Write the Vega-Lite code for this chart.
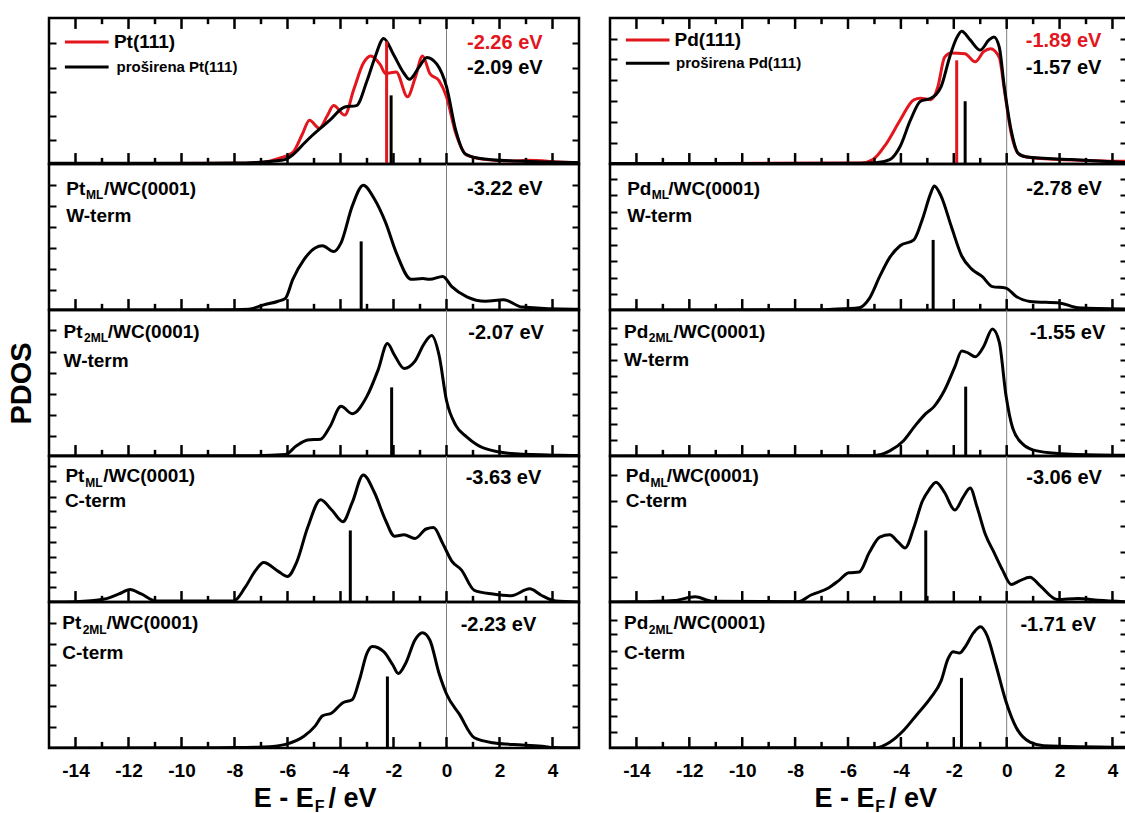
{
"$schema": "https://vega.github.io/schema/vega-lite/v6.json",
"padding": {"left": 5, "top": 15, "right": 0, "bottom": 0},
"background": "white",
"config": {
 "font": "Liberation Sans",
 "view": {"stroke": "#000000", "strokeWidth": 2.5},
 "axis": {"tickColor": "#000000", "tickWidth": 2, "domain": false, "grid": false, "labelFont": "Liberation Sans", "labelFontWeight": "bold", "labelFontSize": 19, "labelColor": "#000000", "titleFont": "Liberation Sans", "titleFontWeight": "bold", "titleColor": "#000000", "zindex": 1},
 "text": {"font": "Liberation Sans", "fontWeight": "bold", "color": "#000000"}
},
"datasets": {
 "tk": [{"x":-14,"m":"a"},{"x":-13,"m":"i"},{"x":-12,"m":"a"},{"x":-11,"m":"i"},{"x":-10,"m":"a"},{"x":-9,"m":"i"},{"x":-8,"m":"a"},{"x":-7,"m":"i"},{"x":-6,"m":"a"},{"x":-5,"m":"i"},{"x":-4,"m":"a"},{"x":-3,"m":"i"},{"x":-2,"m":"a"},{"x":-1,"m":"i"},{"x":0,"m":"a"},{"x":1,"m":"i"},{"x":2,"m":"a"},{"x":3,"m":"i"},{"x":4,"m":"a"}],
 "curves": [
  {"p":"Pt0","s":"ref","x":-15,"y":0.003},{"p":"Pt0","s":"ref","x":-8,"y":0.005},{"p":"Pt0","s":"ref","x":-6.9,"y":0.012},{"p":"Pt0","s":"ref","x":-6.3,"y":0.04},{"p":"Pt0","s":"ref","x":-5.8,"y":0.08},{"p":"Pt0","s":"ref","x":-5.45,"y":0.2},{"p":"Pt0","s":"ref","x":-5.17,"y":0.3},{"p":"Pt0","s":"ref","x":-4.8,"y":0.245},{"p":"Pt0","s":"ref","x":-4.5,"y":0.33},{"p":"Pt0","s":"ref","x":-4.26,"y":0.4},{"p":"Pt0","s":"ref","x":-3.84,"y":0.335},{"p":"Pt0","s":"ref","x":-3.5,"y":0.51},{"p":"Pt0","s":"ref","x":-3.14,"y":0.69},{"p":"Pt0","s":"ref","x":-2.86,"y":0.74},{"p":"Pt0","s":"ref","x":-2.5,"y":0.68},{"p":"Pt0","s":"ref","x":-2.3,"y":0.62},{"p":"Pt0","s":"ref","x":-1.9,"y":0.63},{"p":"Pt0","s":"ref","x":-1.47,"y":0.46},{"p":"Pt0","s":"ref","x":-1.19,"y":0.585},{"p":"Pt0","s":"ref","x":-0.9,"y":0.74},{"p":"Pt0","s":"ref","x":-0.63,"y":0.62},{"p":"Pt0","s":"ref","x":-0.28,"y":0.57},{"p":"Pt0","s":"ref","x":0,"y":0.46},{"p":"Pt0","s":"ref","x":0.35,"y":0.21},{"p":"Pt0","s":"ref","x":0.77,"y":0.06},{"p":"Pt0","s":"ref","x":1.5,"y":0.03},{"p":"Pt0","s":"ref","x":2.6,"y":0.02},{"p":"Pt0","s":"ref","x":3.0,"y":0.025},{"p":"Pt0","s":"ref","x":4.8,"y":0.01},{"p":"Pt0","s":"ref","x":5,"y":0.01},
  {"p":"Pt0","s":"ext","x":-15,"y":0.005},{"p":"Pt0","s":"ext","x":-10,"y":0.005},{"p":"Pt0","s":"ext","x":-8,"y":0.006},{"p":"Pt0","s":"ext","x":-7.2,"y":0.01},{"p":"Pt0","s":"ext","x":-6.5,"y":0.02},{"p":"Pt0","s":"ext","x":-6.1,"y":0.03},{"p":"Pt0","s":"ext","x":-5.8,"y":0.063},{"p":"Pt0","s":"ext","x":-5.38,"y":0.14},{"p":"Pt0","s":"ext","x":-5.1,"y":0.19},{"p":"Pt0","s":"ext","x":-4.4,"y":0.3},{"p":"Pt0","s":"ext","x":-3.84,"y":0.39},{"p":"Pt0","s":"ext","x":-3.4,"y":0.4},{"p":"Pt0","s":"ext","x":-3.0,"y":0.57},{"p":"Pt0","s":"ext","x":-2.7,"y":0.73},{"p":"Pt0","s":"ext","x":-2.37,"y":0.86},{"p":"Pt0","s":"ext","x":-2.0,"y":0.75},{"p":"Pt0","s":"ext","x":-1.6,"y":0.62},{"p":"Pt0","s":"ext","x":-1.4,"y":0.58},{"p":"Pt0","s":"ext","x":-1.05,"y":0.66},{"p":"Pt0","s":"ext","x":-0.74,"y":0.73},{"p":"Pt0","s":"ext","x":-0.35,"y":0.68},{"p":"Pt0","s":"ext","x":0,"y":0.53},{"p":"Pt0","s":"ext","x":0.35,"y":0.23},{"p":"Pt0","s":"ext","x":0.7,"y":0.07},{"p":"Pt0","s":"ext","x":1.2,"y":0.04},{"p":"Pt0","s":"ext","x":2.6,"y":0.02},{"p":"Pt0","s":"ext","x":4.8,"y":0.01},{"p":"Pt0","s":"ext","x":5,"y":0.01},
  {"p":"Pt1","s":"ext","x":-15,"y":0},{"p":"Pt1","s":"ext","x":-8,"y":0.002},{"p":"Pt1","s":"ext","x":-7.47,"y":0.005},{"p":"Pt1","s":"ext","x":-6.9,"y":0.035},{"p":"Pt1","s":"ext","x":-6.35,"y":0.06},{"p":"Pt1","s":"ext","x":-6.08,"y":0.08},{"p":"Pt1","s":"ext","x":-5.8,"y":0.21},{"p":"Pt1","s":"ext","x":-5.38,"y":0.345},{"p":"Pt1","s":"ext","x":-4.96,"y":0.425},{"p":"Pt1","s":"ext","x":-4.68,"y":0.44},{"p":"Pt1","s":"ext","x":-4.26,"y":0.4},{"p":"Pt1","s":"ext","x":-3.98,"y":0.46},{"p":"Pt1","s":"ext","x":-3.56,"y":0.71},{"p":"Pt1","s":"ext","x":-3.14,"y":0.855},{"p":"Pt1","s":"ext","x":-2.72,"y":0.76},{"p":"Pt1","s":"ext","x":-2.3,"y":0.6},{"p":"Pt1","s":"ext","x":-1.89,"y":0.39},{"p":"Pt1","s":"ext","x":-1.33,"y":0.21},{"p":"Pt1","s":"ext","x":-0.9,"y":0.215},{"p":"Pt1","s":"ext","x":-0.63,"y":0.21},{"p":"Pt1","s":"ext","x":-0.14,"y":0.23},{"p":"Pt1","s":"ext","x":0.2,"y":0.16},{"p":"Pt1","s":"ext","x":0.77,"y":0.09},{"p":"Pt1","s":"ext","x":1.47,"y":0.06},{"p":"Pt1","s":"ext","x":2.16,"y":0.07},{"p":"Pt1","s":"ext","x":2.86,"y":0.02},{"p":"Pt1","s":"ext","x":4.8,"y":0.005},{"p":"Pt1","s":"ext","x":5,"y":0.005},
  {"p":"Pt2","s":"ext","x":-15,"y":0},{"p":"Pt2","s":"ext","x":-7.2,"y":0.002},{"p":"Pt2","s":"ext","x":-6.08,"y":0.01},{"p":"Pt2","s":"ext","x":-5.66,"y":0.07},{"p":"Pt2","s":"ext","x":-5.24,"y":0.11},{"p":"Pt2","s":"ext","x":-4.75,"y":0.115},{"p":"Pt2","s":"ext","x":-4.4,"y":0.2},{"p":"Pt2","s":"ext","x":-3.98,"y":0.34},{"p":"Pt2","s":"ext","x":-3.56,"y":0.29},{"p":"Pt2","s":"ext","x":-3.0,"y":0.41},{"p":"Pt2","s":"ext","x":-2.58,"y":0.59},{"p":"Pt2","s":"ext","x":-2.23,"y":0.77},{"p":"Pt2","s":"ext","x":-1.96,"y":0.69},{"p":"Pt2","s":"ext","x":-1.6,"y":0.6},{"p":"Pt2","s":"ext","x":-1.19,"y":0.65},{"p":"Pt2","s":"ext","x":-0.84,"y":0.77},{"p":"Pt2","s":"ext","x":-0.56,"y":0.825},{"p":"Pt2","s":"ext","x":-0.28,"y":0.69},{"p":"Pt2","s":"ext","x":0,"y":0.38},{"p":"Pt2","s":"ext","x":0.35,"y":0.21},{"p":"Pt2","s":"ext","x":0.77,"y":0.13},{"p":"Pt2","s":"ext","x":1.47,"y":0.05},{"p":"Pt2","s":"ext","x":2.6,"y":0.015},{"p":"Pt2","s":"ext","x":4.26,"y":0.005},{"p":"Pt2","s":"ext","x":5,"y":0.003},
  {"p":"Pt3","s":"ext","x":-15,"y":0},{"p":"Pt3","s":"ext","x":-14,"y":0.002},{"p":"Pt3","s":"ext","x":-12.9,"y":0.02},{"p":"Pt3","s":"ext","x":-12.36,"y":0.055},{"p":"Pt3","s":"ext","x":-11.94,"y":0.085},{"p":"Pt3","s":"ext","x":-11.52,"y":0.055},{"p":"Pt3","s":"ext","x":-10.96,"y":0.007},{"p":"Pt3","s":"ext","x":-8.03,"y":0.007},{"p":"Pt3","s":"ext","x":-7.6,"y":0.1},{"p":"Pt3","s":"ext","x":-7.19,"y":0.22},{"p":"Pt3","s":"ext","x":-6.9,"y":0.27},{"p":"Pt3","s":"ext","x":-6.35,"y":0.21},{"p":"Pt3","s":"ext","x":-6.0,"y":0.175},{"p":"Pt3","s":"ext","x":-5.66,"y":0.27},{"p":"Pt3","s":"ext","x":-5.24,"y":0.51},{"p":"Pt3","s":"ext","x":-4.75,"y":0.7},{"p":"Pt3","s":"ext","x":-4.33,"y":0.63},{"p":"Pt3","s":"ext","x":-3.91,"y":0.55},{"p":"Pt3","s":"ext","x":-3.56,"y":0.68},{"p":"Pt3","s":"ext","x":-3.14,"y":0.87},{"p":"Pt3","s":"ext","x":-2.72,"y":0.75},{"p":"Pt3","s":"ext","x":-2.3,"y":0.56},{"p":"Pt3","s":"ext","x":-1.96,"y":0.45},{"p":"Pt3","s":"ext","x":-1.6,"y":0.46},{"p":"Pt3","s":"ext","x":-1.19,"y":0.435},{"p":"Pt3","s":"ext","x":-0.77,"y":0.5},{"p":"Pt3","s":"ext","x":-0.49,"y":0.51},{"p":"Pt3","s":"ext","x":-0.14,"y":0.4},{"p":"Pt3","s":"ext","x":0.2,"y":0.28},{"p":"Pt3","s":"ext","x":0.56,"y":0.22},{"p":"Pt3","s":"ext","x":1.05,"y":0.08},{"p":"Pt3","s":"ext","x":1.75,"y":0.055},{"p":"Pt3","s":"ext","x":2.44,"y":0.043},{"p":"Pt3","s":"ext","x":3.14,"y":0.09},{"p":"Pt3","s":"ext","x":3.56,"y":0.048},{"p":"Pt3","s":"ext","x":4.12,"y":0.007},{"p":"Pt3","s":"ext","x":5,"y":0},
  {"p":"Pt4","s":"ext","x":-15,"y":0},{"p":"Pt4","s":"ext","x":-8,"y":0.003},{"p":"Pt4","s":"ext","x":-6.9,"y":0.007},{"p":"Pt4","s":"ext","x":-6.08,"y":0.025},{"p":"Pt4","s":"ext","x":-5.38,"y":0.08},{"p":"Pt4","s":"ext","x":-4.96,"y":0.15},{"p":"Pt4","s":"ext","x":-4.68,"y":0.22},{"p":"Pt4","s":"ext","x":-4.33,"y":0.24},{"p":"Pt4","s":"ext","x":-3.91,"y":0.31},{"p":"Pt4","s":"ext","x":-3.56,"y":0.33},{"p":"Pt4","s":"ext","x":-3.28,"y":0.47},{"p":"Pt4","s":"ext","x":-3.0,"y":0.65},{"p":"Pt4","s":"ext","x":-2.8,"y":0.695},{"p":"Pt4","s":"ext","x":-2.37,"y":0.66},{"p":"Pt4","s":"ext","x":-2.03,"y":0.57},{"p":"Pt4","s":"ext","x":-1.82,"y":0.51},{"p":"Pt4","s":"ext","x":-1.54,"y":0.58},{"p":"Pt4","s":"ext","x":-1.19,"y":0.74},{"p":"Pt4","s":"ext","x":-0.91,"y":0.79},{"p":"Pt4","s":"ext","x":-0.63,"y":0.74},{"p":"Pt4","s":"ext","x":-0.28,"y":0.51},{"p":"Pt4","s":"ext","x":0,"y":0.37},{"p":"Pt4","s":"ext","x":0.49,"y":0.23},{"p":"Pt4","s":"ext","x":1.05,"y":0.07},{"p":"Pt4","s":"ext","x":1.75,"y":0.036},{"p":"Pt4","s":"ext","x":2.86,"y":0.02},{"p":"Pt4","s":"ext","x":3.7,"y":0.01},{"p":"Pt4","s":"ext","x":4,"y":0.003},{"p":"Pt4","s":"ext","x":5,"y":0.002},
  {"p":"Pd0","s":"ref","x":-15,"y":0.003},{"p":"Pd0","s":"ref","x":-5.5,"y":0.006},{"p":"Pd0","s":"ref","x":-5.06,"y":0.03},{"p":"Pd0","s":"ref","x":-4.55,"y":0.14},{"p":"Pd0","s":"ref","x":-4.03,"y":0.3},{"p":"Pd0","s":"ref","x":-3.51,"y":0.44},{"p":"Pd0","s":"ref","x":-3.26,"y":0.45},{"p":"Pd0","s":"ref","x":-2.87,"y":0.44},{"p":"Pd0","s":"ref","x":-2.6,"y":0.53},{"p":"Pd0","s":"ref","x":-2.35,"y":0.73},{"p":"Pd0","s":"ref","x":-2.1,"y":0.76},{"p":"Pd0","s":"ref","x":-1.58,"y":0.755},{"p":"Pd0","s":"ref","x":-1.19,"y":0.7},{"p":"Pd0","s":"ref","x":-0.87,"y":0.77},{"p":"Pd0","s":"ref","x":-0.61,"y":0.79},{"p":"Pd0","s":"ref","x":-0.28,"y":0.73},{"p":"Pd0","s":"ref","x":-0.09,"y":0.51},{"p":"Pd0","s":"ref","x":0.17,"y":0.21},{"p":"Pd0","s":"ref","x":0.49,"y":0.063},{"p":"Pd0","s":"ref","x":1.14,"y":0.04},{"p":"Pd0","s":"ref","x":4.55,"y":0.018},
  {"p":"Pd0","s":"ext","x":-15,"y":0.003},{"p":"Pd0","s":"ext","x":-5.5,"y":0.005},{"p":"Pd0","s":"ext","x":-4.94,"y":0.008},{"p":"Pd0","s":"ext","x":-4.42,"y":0.03},{"p":"Pd0","s":"ext","x":-4.03,"y":0.12},{"p":"Pd0","s":"ext","x":-3.64,"y":0.3},{"p":"Pd0","s":"ext","x":-3.26,"y":0.43},{"p":"Pd0","s":"ext","x":-2.87,"y":0.45},{"p":"Pd0","s":"ext","x":-2.48,"y":0.53},{"p":"Pd0","s":"ext","x":-2.16,"y":0.73},{"p":"Pd0","s":"ext","x":-1.9,"y":0.86},{"p":"Pd0","s":"ext","x":-1.7,"y":0.91},{"p":"Pd0","s":"ext","x":-1.38,"y":0.85},{"p":"Pd0","s":"ext","x":-1.0,"y":0.78},{"p":"Pd0","s":"ext","x":-0.67,"y":0.85},{"p":"Pd0","s":"ext","x":-0.48,"y":0.87},{"p":"Pd0","s":"ext","x":-0.28,"y":0.8},{"p":"Pd0","s":"ext","x":-0.09,"y":0.53},{"p":"Pd0","s":"ext","x":0.17,"y":0.23},{"p":"Pd0","s":"ext","x":0.43,"y":0.075},{"p":"Pd0","s":"ext","x":0.75,"y":0.048},{"p":"Pd0","s":"ext","x":2.43,"y":0.03},{"p":"Pd0","s":"ext","x":4.55,"y":0.01},
  {"p":"Pd1","s":"ext","x":-15,"y":0},{"p":"Pd1","s":"ext","x":-7.1,"y":0.002},{"p":"Pd1","s":"ext","x":-6.6,"y":0.005},{"p":"Pd1","s":"ext","x":-5.58,"y":0.016},{"p":"Pd1","s":"ext","x":-5.19,"y":0.08},{"p":"Pd1","s":"ext","x":-4.8,"y":0.23},{"p":"Pd1","s":"ext","x":-4.42,"y":0.36},{"p":"Pd1","s":"ext","x":-4.03,"y":0.44},{"p":"Pd1","s":"ext","x":-3.51,"y":0.48},{"p":"Pd1","s":"ext","x":-3.19,"y":0.62},{"p":"Pd1","s":"ext","x":-2.87,"y":0.8},{"p":"Pd1","s":"ext","x":-2.74,"y":0.85},{"p":"Pd1","s":"ext","x":-2.48,"y":0.78},{"p":"Pd1","s":"ext","x":-2.09,"y":0.57},{"p":"Pd1","s":"ext","x":-1.7,"y":0.37},{"p":"Pd1","s":"ext","x":-1.32,"y":0.28},{"p":"Pd1","s":"ext","x":-0.93,"y":0.23},{"p":"Pd1","s":"ext","x":-0.54,"y":0.16},{"p":"Pd1","s":"ext","x":-0.03,"y":0.15},{"p":"Pd1","s":"ext","x":0.36,"y":0.093},{"p":"Pd1","s":"ext","x":0.88,"y":0.058},{"p":"Pd1","s":"ext","x":2.04,"y":0.047},{"p":"Pd1","s":"ext","x":2.69,"y":0.016},{"p":"Pd1","s":"ext","x":4.55,"y":0.007},
  {"p":"Pd2","s":"ext","x":-15,"y":0},{"p":"Pd2","s":"ext","x":-5.06,"y":0.002},{"p":"Pd2","s":"ext","x":-4.42,"y":0.035},{"p":"Pd2","s":"ext","x":-3.9,"y":0.105},{"p":"Pd2","s":"ext","x":-3.45,"y":0.21},{"p":"Pd2","s":"ext","x":-3.06,"y":0.29},{"p":"Pd2","s":"ext","x":-2.74,"y":0.34},{"p":"Pd2","s":"ext","x":-2.35,"y":0.45},{"p":"Pd2","s":"ext","x":-1.96,"y":0.61},{"p":"Pd2","s":"ext","x":-1.7,"y":0.72},{"p":"Pd2","s":"ext","x":-1.45,"y":0.705},{"p":"Pd2","s":"ext","x":-1.19,"y":0.68},{"p":"Pd2","s":"ext","x":-0.87,"y":0.75},{"p":"Pd2","s":"ext","x":-0.54,"y":0.87},{"p":"Pd2","s":"ext","x":-0.28,"y":0.78},{"p":"Pd2","s":"ext","x":-0.03,"y":0.42},{"p":"Pd2","s":"ext","x":0.23,"y":0.19},{"p":"Pd2","s":"ext","x":0.62,"y":0.08},{"p":"Pd2","s":"ext","x":1.14,"y":0.035},{"p":"Pd2","s":"ext","x":2.43,"y":0.012},{"p":"Pd2","s":"ext","x":4.55,"y":0.005},
  {"p":"Pd3","s":"ext","x":-15,"y":0},{"p":"Pd3","s":"ext","x":-14,"y":0.001},{"p":"Pd3","s":"ext","x":-12.56,"y":0.01},{"p":"Pd3","s":"ext","x":-11.78,"y":0.036},{"p":"Pd3","s":"ext","x":-11.14,"y":0.005},{"p":"Pd3","s":"ext","x":-7.9,"y":0.002},{"p":"Pd3","s":"ext","x":-7.4,"y":0.048},{"p":"Pd3","s":"ext","x":-6.74,"y":0.096},{"p":"Pd3","s":"ext","x":-6.36,"y":0.145},{"p":"Pd3","s":"ext","x":-5.97,"y":0.2},{"p":"Pd3","s":"ext","x":-5.58,"y":0.205},{"p":"Pd3","s":"ext","x":-5.19,"y":0.34},{"p":"Pd3","s":"ext","x":-4.8,"y":0.445},{"p":"Pd3","s":"ext","x":-4.42,"y":0.46},{"p":"Pd3","s":"ext","x":-4.1,"y":0.41},{"p":"Pd3","s":"ext","x":-3.84,"y":0.37},{"p":"Pd3","s":"ext","x":-3.51,"y":0.51},{"p":"Pd3","s":"ext","x":-3.19,"y":0.69},{"p":"Pd3","s":"ext","x":-2.93,"y":0.77},{"p":"Pd3","s":"ext","x":-2.67,"y":0.82},{"p":"Pd3","s":"ext","x":-2.35,"y":0.75},{"p":"Pd3","s":"ext","x":-1.96,"y":0.63},{"p":"Pd3","s":"ext","x":-1.64,"y":0.72},{"p":"Pd3","s":"ext","x":-1.38,"y":0.78},{"p":"Pd3","s":"ext","x":-1.12,"y":0.65},{"p":"Pd3","s":"ext","x":-0.8,"y":0.46},{"p":"Pd3","s":"ext","x":-0.48,"y":0.34},{"p":"Pd3","s":"ext","x":-0.16,"y":0.22},{"p":"Pd3","s":"ext","x":0.17,"y":0.12},{"p":"Pd3","s":"ext","x":0.49,"y":0.145},{"p":"Pd3","s":"ext","x":0.88,"y":0.17},{"p":"Pd3","s":"ext","x":1.27,"y":0.11},{"p":"Pd3","s":"ext","x":1.91,"y":0.017},{"p":"Pd3","s":"ext","x":2.69,"y":0.024},{"p":"Pd3","s":"ext","x":3.46,"y":0.012},{"p":"Pd3","s":"ext","x":4.55,"y":0.002},
  {"p":"Pd4","s":"ext","x":-15,"y":0},{"p":"Pd4","s":"ext","x":-4.94,"y":0.002},{"p":"Pd4","s":"ext","x":-4.42,"y":0.04},{"p":"Pd4","s":"ext","x":-3.9,"y":0.12},{"p":"Pd4","s":"ext","x":-3.39,"y":0.23},{"p":"Pd4","s":"ext","x":-2.87,"y":0.345},{"p":"Pd4","s":"ext","x":-2.48,"y":0.46},{"p":"Pd4","s":"ext","x":-2.22,"y":0.61},{"p":"Pd4","s":"ext","x":-2.03,"y":0.66},{"p":"Pd4","s":"ext","x":-1.78,"y":0.65},{"p":"Pd4","s":"ext","x":-1.58,"y":0.69},{"p":"Pd4","s":"ext","x":-1.25,"y":0.79},{"p":"Pd4","s":"ext","x":-0.99,"y":0.83},{"p":"Pd4","s":"ext","x":-0.74,"y":0.77},{"p":"Pd4","s":"ext","x":-0.41,"y":0.57},{"p":"Pd4","s":"ext","x":-0.03,"y":0.32},{"p":"Pd4","s":"ext","x":0.36,"y":0.14},{"p":"Pd4","s":"ext","x":0.88,"y":0.04},{"p":"Pd4","s":"ext","x":1.4,"y":0.016},{"p":"Pd4","s":"ext","x":4.55,"y":0.005}
 ],
 "centers": [
  {"p":"Pt0","s":"ref","x":-2.26,"h":0.84},{"p":"Pt0","s":"ext","x":-2.09,"h":0.47},
  {"p":"Pt1","s":"ext","x":-3.22,"h":0.47},{"p":"Pt2","s":"ext","x":-2.07,"h":0.47},{"p":"Pt3","s":"ext","x":-3.63,"h":0.49},{"p":"Pt4","s":"ext","x":-2.23,"h":0.49},
  {"p":"Pd0","s":"ref","x":-1.89,"h":0.71},{"p":"Pd0","s":"ext","x":-1.57,"h":0.43},
  {"p":"Pd1","s":"ext","x":-2.78,"h":0.48},{"p":"Pd2","s":"ext","x":-1.55,"h":0.475},{"p":"Pd3","s":"ext","x":-3.06,"h":0.49},{"p":"Pd4","s":"ext","x":-1.71,"h":0.48}
 ],
 "leg": [
  {"p":"Pt0","s":"ref","x":-14.4,"x2":-12.75,"y":0.835},{"p":"Pt0","s":"ext","x":-14.4,"x2":-12.75,"y":0.665},
  {"p":"Pd0","s":"ref","x":-14.4,"x2":-12.75,"y":0.85},{"p":"Pd0","s":"ext","x":-14.4,"x2":-12.75,"y":0.69}
 ],
 "zero": [{"e":0}],
 "txt": [
  {"p":"Pt0","k":"en","s":"ref","x":2.2,"y":0.83,"t":"-2.26 eV"},{"p":"Pt0","k":"en","s":"ext","x":2.2,"y":0.655,"t":"-2.09 eV"},
  {"p":"Pt0","k":"nm","x":-12.55,"y":0.835,"t":"Pt(111)"},{"p":"Pt0","k":"l2","x":-12.45,"y":0.665,"t":"proširena Pt(111)"},
  {"p":"Pt1","k":"nm","x":-14.35,"y":0.83,"t":"Pt"},{"p":"Pt1","k":"sb","x":-13.6,"y":0.785,"t":"ML"},{"p":"Pt1","k":"nm","x":-12.92,"y":0.83,"t":"/WC(0001)"},{"p":"Pt1","k":"nm","x":-14.35,"y":0.645,"t":"W-term"},{"p":"Pt1","k":"en","s":"ext","x":2.2,"y":0.83,"t":"-3.22 eV"},
  {"p":"Pt2","k":"nm","x":-14.45,"y":0.85,"t":"Pt"},{"p":"Pt2","k":"sb","x":-13.68,"y":0.805,"t":"2ML"},{"p":"Pt2","k":"nm","x":-12.78,"y":0.85,"t":"/WC(0001)"},{"p":"Pt2","k":"nm","x":-14.45,"y":0.65,"t":"W-term"},{"p":"Pt2","k":"en","s":"ext","x":2.25,"y":0.84,"t":"-2.07 eV"},
  {"p":"Pt3","k":"nm","x":-14.38,"y":0.86,"t":"Pt"},{"p":"Pt3","k":"sb","x":-13.63,"y":0.815,"t":"ML"},{"p":"Pt3","k":"nm","x":-12.95,"y":0.86,"t":"/WC(0001)"},{"p":"Pt3","k":"nm","x":-14.4,"y":0.69,"t":"C-term"},{"p":"Pt3","k":"en","s":"ext","x":2.15,"y":0.85,"t":"-3.63 eV"},
  {"p":"Pt4","k":"nm","x":-14.5,"y":0.855,"t":"Pt"},{"p":"Pt4","k":"sb","x":-13.73,"y":0.81,"t":"2ML"},{"p":"Pt4","k":"nm","x":-12.83,"y":0.855,"t":"/WC(0001)"},{"p":"Pt4","k":"nm","x":-14.5,"y":0.65,"t":"C-term"},{"p":"Pt4","k":"en","s":"ext","x":1.96,"y":0.84,"t":"-2.23 eV"},
  {"p":"Pt4","k":"xt","x":-7.27,"y":-0.35,"t":"E - E"},{"p":"Pt4","k":"xs","x":-4.97,"y":-0.405,"t":"F"},{"p":"Pt4","k":"xt","x":-4.45,"y":-0.35,"t":"/ eV"},
  {"p":"Pd0","k":"en","s":"ref","x":2.15,"y":0.84,"t":"-1.89 eV"},{"p":"Pd0","k":"en","s":"ext","x":2.15,"y":0.66,"t":"-1.57 eV"},
  {"p":"Pd0","k":"nm","x":-12.56,"y":0.85,"t":"Pd(111)"},{"p":"Pd0","k":"l2","x":-12.5,"y":0.69,"t":"proširena Pd(111)"},
  {"p":"Pd1","k":"nm","x":-14.35,"y":0.83,"t":"Pd"},{"p":"Pd1","k":"sb","x":-13.42,"y":0.785,"t":"ML"},{"p":"Pd1","k":"nm","x":-12.8,"y":0.83,"t":"/WC(0001)"},{"p":"Pd1","k":"nm","x":-14.35,"y":0.645,"t":"W-term"},{"p":"Pd1","k":"en","s":"ext","x":2.17,"y":0.83,"t":"-2.78 eV"},
  {"p":"Pd2","k":"nm","x":-14.47,"y":0.85,"t":"Pd"},{"p":"Pd2","k":"sb","x":-13.53,"y":0.805,"t":"2ML"},{"p":"Pd2","k":"nm","x":-12.6,"y":0.85,"t":"/WC(0001)"},{"p":"Pd2","k":"nm","x":-14.47,"y":0.655,"t":"W-term"},{"p":"Pd2","k":"en","s":"ext","x":2.3,"y":0.84,"t":"-1.55 eV"},
  {"p":"Pd3","k":"nm","x":-14.4,"y":0.86,"t":"Pd"},{"p":"Pd3","k":"sb","x":-13.47,"y":0.815,"t":"ML"},{"p":"Pd3","k":"nm","x":-12.85,"y":0.86,"t":"/WC(0001)"},{"p":"Pd3","k":"nm","x":-14.4,"y":0.69,"t":"C-term"},{"p":"Pd3","k":"en","s":"ext","x":2.17,"y":0.85,"t":"-3.06 eV"},
  {"p":"Pd4","k":"nm","x":-14.47,"y":0.855,"t":"Pd"},{"p":"Pd4","k":"sb","x":-13.53,"y":0.81,"t":"2ML"},{"p":"Pd4","k":"nm","x":-12.6,"y":0.855,"t":"/WC(0001)"},{"p":"Pd4","k":"nm","x":-14.47,"y":0.65,"t":"C-term"},{"p":"Pd4","k":"en","s":"ext","x":1.95,"y":0.84,"t":"-1.71 eV"},
  {"p":"Pd4","k":"xt","x":-7.27,"y":-0.35,"t":"E - E"},{"p":"Pd4","k":"xs","x":-4.97,"y":-0.405,"t":"F"},{"p":"Pd4","k":"xt","x":-4.45,"y":-0.35,"t":"/ eV"}
 ]
},
"spacing": 25,
"hconcat": [
 {"spacing": 0, "bounds": "flush", "vconcat": [
  {"width": 530, "height": 146, "resolve": {"axis": {"x": "independent", "y": "independent"}}, "layer": [
   {"data": {"name": "zero"}, "mark": {"type": "rule", "color": "#808080", "strokeWidth": 1}, "encoding": {"x": {"field": "e", "type": "quantitative", "scale": {"domain": [-15, 5], "nice": false, "zero": false}, "axis": null}}},
   {"data": {"name": "curves"}, "transform": [{"filter": "datum.p === 'Pt0'"}], "mark": {"type": "line", "interpolate": "monotone", "strokeWidth": 3, "clip": true}, "encoding": {
     "x": {"field": "x", "type": "quantitative", "axis": null},
     "y": {"field": "y", "type": "quantitative", "scale": {"domain": [0, 1], "nice": false}, "axis": {"orient": "left", "values": [0.166, 0.329, 0.494, 0.66, 0.83], "labels": false, "title": null, "tickSize": -7}},
     "color": {"field": "s", "type": "nominal", "scale": {"domain": ["ref", "ext"], "range": ["#e3151d", "#000000"]}, "legend": null}}},
   {"data": {"name": "tk"}, "transform": [{"filter": "datum.m === 'a'"}], "mark": {"type": "rule", "color": "#000000", "strokeWidth": 2.5}, "encoding": {"x": {"field": "x", "type": "quantitative", "axis": null}, "y": {"datum": 0, "type": "quantitative", "axis": null}, "y2": {"datum": 0.075}}},
   {"data": {"name": "tk"}, "transform": [{"filter": "datum.m === 'i'"}], "mark": {"type": "rule", "color": "#000000", "strokeWidth": 2.5}, "encoding": {"x": {"field": "x", "type": "quantitative", "axis": null}, "y": {"datum": 0, "type": "quantitative", "axis": null}, "y2": {"datum": 0.042}}},
   {"data": {"name": "tk"}, "transform": [{"filter": "datum.m === 'a'"}], "mark": {"type": "rule", "color": "#000000", "strokeWidth": 2.5}, "encoding": {"x": {"field": "x", "type": "quantitative", "axis": null}, "y": {"datum": 1, "type": "quantitative", "axis": null}, "y2": {"datum": 0.925}}},
   {"data": {"name": "tk"}, "transform": [{"filter": "datum.m === 'i'"}], "mark": {"type": "rule", "color": "#000000", "strokeWidth": 2.5}, "encoding": {"x": {"field": "x", "type": "quantitative", "axis": null}, "y": {"datum": 1, "type": "quantitative", "axis": null}, "y2": {"datum": 0.958}}},
   {"data": {"name": "centers"}, "transform": [{"filter": "datum.p === 'Pt0'"}], "mark": {"type": "rule", "strokeWidth": 3}, "encoding": {
     "x": {"field": "x", "type": "quantitative", "axis": null},
     "y": {"field": "h", "type": "quantitative", "axis": {"orient": "right", "values": [0.166, 0.329, 0.494, 0.66, 0.83], "labels": false, "title": null, "tickSize": -7}},
     "y2": {"datum": 0}, "color": {"field": "s", "type": "nominal", "legend": null}}},
   {"data": {"name": "leg"}, "transform": [{"filter": "datum.p === 'Pt0'"}], "mark": {"type": "rule", "strokeWidth": 3}, "encoding": {
     "x": {"field": "x", "type": "quantitative", "axis": null}, "x2": {"field": "x2"},
     "y": {"field": "y", "type": "quantitative", "axis": null}, "color": {"field": "s", "type": "nominal", "legend": null}}},
   {"data": {"name": "txt"}, "transform": [{"filter": "datum.p === 'Pt0' && datum.k === 'nm'"}], "mark": {"type": "text", "align": "left", "baseline": "middle", "fontSize": 19}, "encoding": {"x": {"field": "x", "type": "quantitative", "axis": null}, "y": {"field": "y", "type": "quantitative", "axis": null}, "text": {"field": "t"}}},
   {"data": {"name": "txt"}, "transform": [{"filter": "datum.p === 'Pt0' && datum.k === 'l2'"}], "mark": {"type": "text", "align": "left", "baseline": "middle", "fontSize": 15}, "encoding": {"x": {"field": "x", "type": "quantitative", "axis": null}, "y": {"field": "y", "type": "quantitative", "axis": null}, "text": {"field": "t"}}},
   {"data": {"name": "txt"}, "transform": [{"filter": "datum.p === 'Pt0' && datum.k === 'en'"}], "mark": {"type": "text", "align": "center", "baseline": "middle", "fontSize": 20}, "encoding": {"x": {"field": "x", "type": "quantitative", "axis": null}, "y": {"field": "y", "type": "quantitative", "axis": null}, "text": {"field": "t"}, "color": {"field": "s", "type": "nominal", "legend": null}}}
  ]},
  {"width": 530, "height": 146, "resolve": {"axis": {"x": "independent", "y": "independent"}}, "layer": [
   {"data": {"name": "zero"}, "mark": {"type": "rule", "color": "#808080", "strokeWidth": 1}, "encoding": {"x": {"field": "e", "type": "quantitative", "scale": {"domain": [-15, 5], "nice": false, "zero": false}, "axis": null}}},
   {"data": {"name": "curves"}, "transform": [{"filter": "datum.p === 'Pt1'"}], "mark": {"type": "line", "interpolate": "monotone", "strokeWidth": 3, "clip": true}, "encoding": {
     "x": {"field": "x", "type": "quantitative", "axis": null},
     "y": {"field": "y", "type": "quantitative", "scale": {"domain": [0, 1], "nice": false}, "axis": {"orient": "left", "values": [0.138, 0.283, 0.428, 0.57, 0.713, 0.855], "labels": false, "title": null, "tickSize": -7}},
     "color": {"field": "s", "type": "nominal", "scale": {"domain": ["ref", "ext"], "range": ["#e3151d", "#000000"]}, "legend": null}}},
   {"data": {"name": "tk"}, "transform": [{"filter": "datum.m === 'a'"}], "mark": {"type": "rule", "color": "#000000", "strokeWidth": 2.5}, "encoding": {"x": {"field": "x", "type": "quantitative", "axis": null}, "y": {"datum": 0, "type": "quantitative", "axis": null}, "y2": {"datum": 0.075}}},
   {"data": {"name": "tk"}, "transform": [{"filter": "datum.m === 'i'"}], "mark": {"type": "rule", "color": "#000000", "strokeWidth": 2.5}, "encoding": {"x": {"field": "x", "type": "quantitative", "axis": null}, "y": {"datum": 0, "type": "quantitative", "axis": null}, "y2": {"datum": 0.042}}},
   {"data": {"name": "centers"}, "transform": [{"filter": "datum.p === 'Pt1'"}], "mark": {"type": "rule", "strokeWidth": 3}, "encoding": {
     "x": {"field": "x", "type": "quantitative", "axis": null},
     "y": {"field": "h", "type": "quantitative", "axis": {"orient": "right", "values": [0.138, 0.283, 0.428, 0.57, 0.713, 0.855], "labels": false, "title": null, "tickSize": -7}},
     "y2": {"datum": 0}, "color": {"field": "s", "type": "nominal", "legend": null}}},
   {"data": {"name": "txt"}, "transform": [{"filter": "datum.p === 'Pt1' && datum.k === 'nm'"}], "mark": {"type": "text", "align": "left", "baseline": "middle", "fontSize": 19}, "encoding": {"x": {"field": "x", "type": "quantitative", "axis": null}, "y": {"field": "y", "type": "quantitative", "axis": null}, "text": {"field": "t"}}},
   {"data": {"name": "txt"}, "transform": [{"filter": "datum.p === 'Pt1' && datum.k === 'sb'"}], "mark": {"type": "text", "align": "left", "baseline": "middle", "fontSize": 12}, "encoding": {"x": {"field": "x", "type": "quantitative", "axis": null}, "y": {"field": "y", "type": "quantitative", "axis": null}, "text": {"field": "t"}}},
   {"data": {"name": "txt"}, "transform": [{"filter": "datum.p === 'Pt1' && datum.k === 'en'"}], "mark": {"type": "text", "align": "center", "baseline": "middle", "fontSize": 20}, "encoding": {"x": {"field": "x", "type": "quantitative", "axis": null}, "y": {"field": "y", "type": "quantitative", "axis": null}, "text": {"field": "t"}, "color": {"field": "s", "type": "nominal", "legend": null}}}
  ]},
  {"width": 530, "height": 146, "resolve": {"axis": {"x": "independent", "y": "independent"}}, "layer": [
   {"data": {"name": "zero"}, "mark": {"type": "rule", "color": "#808080", "strokeWidth": 1}, "encoding": {"x": {"field": "e", "type": "quantitative", "scale": {"domain": [-15, 5], "nice": false, "zero": false}, "axis": null}}},
   {"data": {"name": "curves"}, "transform": [{"filter": "datum.p === 'Pt2'"}], "mark": {"type": "line", "interpolate": "monotone", "strokeWidth": 3, "clip": true}, "encoding": {
     "x": {"field": "x", "type": "quantitative", "axis": null},
     "y": {"field": "y", "type": "quantitative", "scale": {"domain": [0, 1], "nice": false}, "axis": {"orient": "left", "values": [0.135, 0.28, 0.426, 0.57, 0.714, 0.86], "labels": false, "title": "PDOS", "titleFontSize": 29, "titlePadding": 12, "tickSize": -7}},
     "color": {"field": "s", "type": "nominal", "scale": {"domain": ["ref", "ext"], "range": ["#e3151d", "#000000"]}, "legend": null}}},
   {"data": {"name": "tk"}, "transform": [{"filter": "datum.m === 'a'"}], "mark": {"type": "rule", "color": "#000000", "strokeWidth": 2.5}, "encoding": {"x": {"field": "x", "type": "quantitative", "axis": null}, "y": {"datum": 0, "type": "quantitative", "axis": null}, "y2": {"datum": 0.075}}},
   {"data": {"name": "tk"}, "transform": [{"filter": "datum.m === 'i'"}], "mark": {"type": "rule", "color": "#000000", "strokeWidth": 2.5}, "encoding": {"x": {"field": "x", "type": "quantitative", "axis": null}, "y": {"datum": 0, "type": "quantitative", "axis": null}, "y2": {"datum": 0.042}}},
   {"data": {"name": "centers"}, "transform": [{"filter": "datum.p === 'Pt2'"}], "mark": {"type": "rule", "strokeWidth": 3}, "encoding": {
     "x": {"field": "x", "type": "quantitative", "axis": null},
     "y": {"field": "h", "type": "quantitative", "axis": {"orient": "right", "values": [0.135, 0.28, 0.426, 0.57, 0.714, 0.86], "labels": false, "title": null, "tickSize": -7}},
     "y2": {"datum": 0}, "color": {"field": "s", "type": "nominal", "legend": null}}},
   {"data": {"name": "txt"}, "transform": [{"filter": "datum.p === 'Pt2' && datum.k === 'nm'"}], "mark": {"type": "text", "align": "left", "baseline": "middle", "fontSize": 19}, "encoding": {"x": {"field": "x", "type": "quantitative", "axis": null}, "y": {"field": "y", "type": "quantitative", "axis": null}, "text": {"field": "t"}}},
   {"data": {"name": "txt"}, "transform": [{"filter": "datum.p === 'Pt2' && datum.k === 'sb'"}], "mark": {"type": "text", "align": "left", "baseline": "middle", "fontSize": 12}, "encoding": {"x": {"field": "x", "type": "quantitative", "axis": null}, "y": {"field": "y", "type": "quantitative", "axis": null}, "text": {"field": "t"}}},
   {"data": {"name": "txt"}, "transform": [{"filter": "datum.p === 'Pt2' && datum.k === 'en'"}], "mark": {"type": "text", "align": "center", "baseline": "middle", "fontSize": 20}, "encoding": {"x": {"field": "x", "type": "quantitative", "axis": null}, "y": {"field": "y", "type": "quantitative", "axis": null}, "text": {"field": "t"}, "color": {"field": "s", "type": "nominal", "legend": null}}}
  ]},
  {"width": 530, "height": 146, "resolve": {"axis": {"x": "independent", "y": "independent"}}, "layer": [
   {"data": {"name": "zero"}, "mark": {"type": "rule", "color": "#808080", "strokeWidth": 1}, "encoding": {"x": {"field": "e", "type": "quantitative", "scale": {"domain": [-15, 5], "nice": false, "zero": false}, "axis": null}}},
   {"data": {"name": "curves"}, "transform": [{"filter": "datum.p === 'Pt3'"}], "mark": {"type": "line", "interpolate": "monotone", "strokeWidth": 3, "clip": true}, "encoding": {
     "x": {"field": "x", "type": "quantitative", "axis": null},
     "y": {"field": "y", "type": "quantitative", "scale": {"domain": [0, 1], "nice": false}, "axis": {"orient": "left", "values": [0.1, 0.205, 0.31, 0.41, 0.515, 0.62, 0.72, 0.83, 0.93], "labels": false, "title": null, "tickSize": -7}},
     "color": {"field": "s", "type": "nominal", "scale": {"domain": ["ref", "ext"], "range": ["#e3151d", "#000000"]}, "legend": null}}},
   {"data": {"name": "tk"}, "transform": [{"filter": "datum.m === 'a'"}], "mark": {"type": "rule", "color": "#000000", "strokeWidth": 2.5}, "encoding": {"x": {"field": "x", "type": "quantitative", "axis": null}, "y": {"datum": 0, "type": "quantitative", "axis": null}, "y2": {"datum": 0.075}}},
   {"data": {"name": "tk"}, "transform": [{"filter": "datum.m === 'i'"}], "mark": {"type": "rule", "color": "#000000", "strokeWidth": 2.5}, "encoding": {"x": {"field": "x", "type": "quantitative", "axis": null}, "y": {"datum": 0, "type": "quantitative", "axis": null}, "y2": {"datum": 0.042}}},
   {"data": {"name": "centers"}, "transform": [{"filter": "datum.p === 'Pt3'"}], "mark": {"type": "rule", "strokeWidth": 3}, "encoding": {
     "x": {"field": "x", "type": "quantitative", "axis": null},
     "y": {"field": "h", "type": "quantitative", "axis": {"orient": "right", "values": [0.1, 0.205, 0.31, 0.41, 0.515, 0.62, 0.72, 0.83, 0.93], "labels": false, "title": null, "tickSize": -7}},
     "y2": {"datum": 0}, "color": {"field": "s", "type": "nominal", "legend": null}}},
   {"data": {"name": "txt"}, "transform": [{"filter": "datum.p === 'Pt3' && datum.k === 'nm'"}], "mark": {"type": "text", "align": "left", "baseline": "middle", "fontSize": 19}, "encoding": {"x": {"field": "x", "type": "quantitative", "axis": null}, "y": {"field": "y", "type": "quantitative", "axis": null}, "text": {"field": "t"}}},
   {"data": {"name": "txt"}, "transform": [{"filter": "datum.p === 'Pt3' && datum.k === 'sb'"}], "mark": {"type": "text", "align": "left", "baseline": "middle", "fontSize": 12}, "encoding": {"x": {"field": "x", "type": "quantitative", "axis": null}, "y": {"field": "y", "type": "quantitative", "axis": null}, "text": {"field": "t"}}},
   {"data": {"name": "txt"}, "transform": [{"filter": "datum.p === 'Pt3' && datum.k === 'en'"}], "mark": {"type": "text", "align": "center", "baseline": "middle", "fontSize": 20}, "encoding": {"x": {"field": "x", "type": "quantitative", "axis": null}, "y": {"field": "y", "type": "quantitative", "axis": null}, "text": {"field": "t"}, "color": {"field": "s", "type": "nominal", "legend": null}}}
  ]},
  {"width": 530, "height": 146, "resolve": {"axis": {"x": "independent", "y": "independent"}}, "layer": [
   {"data": {"name": "zero"}, "mark": {"type": "rule", "color": "#808080", "strokeWidth": 1}, "encoding": {"x": {"field": "e", "type": "quantitative", "scale": {"domain": [-15, 5], "nice": false, "zero": false}, "axis": null}}},
   {"data": {"name": "curves"}, "transform": [{"filter": "datum.p === 'Pt4'"}], "mark": {"type": "line", "interpolate": "monotone", "strokeWidth": 3, "clip": true}, "encoding": {
     "x": {"field": "x", "type": "quantitative", "axis": {"orient": "bottom", "values": [-14,-12,-10,-8,-6,-4,-2,0,2,4], "ticks": false, "labels": true, "labelExpr": "'' + datum.value", "labelOverlap": false, "labelFlush": false, "labelPadding": 13, "title": null}},
     "y": {"field": "y", "type": "quantitative", "scale": {"domain": [0, 1], "nice": false}, "axis": {"orient": "left", "values": [0.145, 0.286, 0.43, 0.57, 0.714, 0.855], "labels": false, "title": null, "tickSize": -7}},
     "color": {"field": "s", "type": "nominal", "scale": {"domain": ["ref", "ext"], "range": ["#e3151d", "#000000"]}, "legend": null}}},
   {"data": {"name": "tk"}, "transform": [{"filter": "datum.m === 'a'"}], "mark": {"type": "rule", "color": "#000000", "strokeWidth": 2.5}, "encoding": {"x": {"field": "x", "type": "quantitative", "axis": null}, "y": {"datum": 0, "type": "quantitative", "axis": null}, "y2": {"datum": 0.075}}},
   {"data": {"name": "tk"}, "transform": [{"filter": "datum.m === 'i'"}], "mark": {"type": "rule", "color": "#000000", "strokeWidth": 2.5}, "encoding": {"x": {"field": "x", "type": "quantitative", "axis": null}, "y": {"datum": 0, "type": "quantitative", "axis": null}, "y2": {"datum": 0.042}}},
   {"data": {"name": "centers"}, "transform": [{"filter": "datum.p === 'Pt4'"}], "mark": {"type": "rule", "strokeWidth": 3}, "encoding": {
     "x": {"field": "x", "type": "quantitative", "axis": null},
     "y": {"field": "h", "type": "quantitative", "axis": {"orient": "right", "values": [0.145, 0.286, 0.43, 0.57, 0.714, 0.855], "labels": false, "title": null, "tickSize": -7}},
     "y2": {"datum": 0}, "color": {"field": "s", "type": "nominal", "legend": null}}},
   {"data": {"name": "txt"}, "transform": [{"filter": "datum.p === 'Pt4' && datum.k === 'nm'"}], "mark": {"type": "text", "align": "left", "baseline": "middle", "fontSize": 19}, "encoding": {"x": {"field": "x", "type": "quantitative", "axis": null}, "y": {"field": "y", "type": "quantitative", "axis": null}, "text": {"field": "t"}}},
   {"data": {"name": "txt"}, "transform": [{"filter": "datum.p === 'Pt4' && datum.k === 'sb'"}], "mark": {"type": "text", "align": "left", "baseline": "middle", "fontSize": 12}, "encoding": {"x": {"field": "x", "type": "quantitative", "axis": null}, "y": {"field": "y", "type": "quantitative", "axis": null}, "text": {"field": "t"}}},
   {"data": {"name": "txt"}, "transform": [{"filter": "datum.p === 'Pt4' && datum.k === 'en'"}], "mark": {"type": "text", "align": "center", "baseline": "middle", "fontSize": 20}, "encoding": {"x": {"field": "x", "type": "quantitative", "axis": null}, "y": {"field": "y", "type": "quantitative", "axis": null}, "text": {"field": "t"}, "color": {"field": "s", "type": "nominal", "legend": null}}},
   {"data": {"name": "txt"}, "transform": [{"filter": "datum.p === 'Pt4' && datum.k === 'xt'"}], "mark": {"type": "text", "align": "left", "baseline": "middle", "fontSize": 27}, "encoding": {"x": {"field": "x", "type": "quantitative", "axis": null}, "y": {"field": "y", "type": "quantitative", "axis": null}, "text": {"field": "t"}}},
   {"data": {"name": "txt"}, "transform": [{"filter": "datum.p === 'Pt4' && datum.k === 'xs'"}], "mark": {"type": "text", "align": "left", "baseline": "middle", "fontSize": 16}, "encoding": {"x": {"field": "x", "type": "quantitative", "axis": null}, "y": {"field": "y", "type": "quantitative", "axis": null}, "text": {"field": "t"}}}
  ]}
 ]},
 {"spacing": 0, "bounds": "flush", "vconcat": [
  {"width": 517, "height": 146, "resolve": {"axis": {"x": "independent", "y": "independent"}}, "layer": [
   {"data": {"name": "zero"}, "mark": {"type": "rule", "color": "#808080", "strokeWidth": 1}, "encoding": {"x": {"field": "e", "type": "quantitative", "scale": {"domain": [-15, 4.55], "nice": false, "zero": false}, "axis": null}}},
   {"data": {"name": "curves"}, "transform": [{"filter": "datum.p === 'Pd0'"}], "mark": {"type": "line", "interpolate": "monotone", "strokeWidth": 3, "clip": true}, "encoding": {
     "x": {"field": "x", "type": "quantitative", "axis": null},
     "y": {"field": "y", "type": "quantitative", "scale": {"domain": [0, 1], "nice": false}, "axis": {"orient": "left", "values": [0.147, 0.29, 0.433, 0.574, 0.717, 0.857], "labels": false, "title": null, "tickSize": -7}},
     "color": {"field": "s", "type": "nominal", "scale": {"domain": ["ref", "ext"], "range": ["#e3151d", "#000000"]}, "legend": null}}},
   {"data": {"name": "tk"}, "transform": [{"filter": "datum.m === 'a'"}], "mark": {"type": "rule", "color": "#000000", "strokeWidth": 2.5}, "encoding": {"x": {"field": "x", "type": "quantitative", "axis": null}, "y": {"datum": 0, "type": "quantitative", "axis": null}, "y2": {"datum": 0.075}}},
   {"data": {"name": "tk"}, "transform": [{"filter": "datum.m === 'i'"}], "mark": {"type": "rule", "color": "#000000", "strokeWidth": 2.5}, "encoding": {"x": {"field": "x", "type": "quantitative", "axis": null}, "y": {"datum": 0, "type": "quantitative", "axis": null}, "y2": {"datum": 0.042}}},
   {"data": {"name": "tk"}, "transform": [{"filter": "datum.m === 'a'"}], "mark": {"type": "rule", "color": "#000000", "strokeWidth": 2.5}, "encoding": {"x": {"field": "x", "type": "quantitative", "axis": null}, "y": {"datum": 1, "type": "quantitative", "axis": null}, "y2": {"datum": 0.925}}},
   {"data": {"name": "tk"}, "transform": [{"filter": "datum.m === 'i'"}], "mark": {"type": "rule", "color": "#000000", "strokeWidth": 2.5}, "encoding": {"x": {"field": "x", "type": "quantitative", "axis": null}, "y": {"datum": 1, "type": "quantitative", "axis": null}, "y2": {"datum": 0.958}}},
   {"data": {"name": "centers"}, "transform": [{"filter": "datum.p === 'Pd0'"}], "mark": {"type": "rule", "strokeWidth": 3}, "encoding": {
     "x": {"field": "x", "type": "quantitative", "axis": null},
     "y": {"field": "h", "type": "quantitative", "axis": {"orient": "right", "values": [0.147, 0.29, 0.433, 0.574, 0.717, 0.857], "labels": false, "title": null, "tickSize": -7}},
     "y2": {"datum": 0}, "color": {"field": "s", "type": "nominal", "legend": null}}},
   {"data": {"name": "leg"}, "transform": [{"filter": "datum.p === 'Pd0'"}], "mark": {"type": "rule", "strokeWidth": 3}, "encoding": {
     "x": {"field": "x", "type": "quantitative", "axis": null}, "x2": {"field": "x2"},
     "y": {"field": "y", "type": "quantitative", "axis": null}, "color": {"field": "s", "type": "nominal", "legend": null}}},
   {"data": {"name": "txt"}, "transform": [{"filter": "datum.p === 'Pd0' && datum.k === 'nm'"}], "mark": {"type": "text", "align": "left", "baseline": "middle", "fontSize": 19}, "encoding": {"x": {"field": "x", "type": "quantitative", "axis": null}, "y": {"field": "y", "type": "quantitative", "axis": null}, "text": {"field": "t"}}},
   {"data": {"name": "txt"}, "transform": [{"filter": "datum.p === 'Pd0' && datum.k === 'l2'"}], "mark": {"type": "text", "align": "left", "baseline": "middle", "fontSize": 15}, "encoding": {"x": {"field": "x", "type": "quantitative", "axis": null}, "y": {"field": "y", "type": "quantitative", "axis": null}, "text": {"field": "t"}}},
   {"data": {"name": "txt"}, "transform": [{"filter": "datum.p === 'Pd0' && datum.k === 'en'"}], "mark": {"type": "text", "align": "center", "baseline": "middle", "fontSize": 20}, "encoding": {"x": {"field": "x", "type": "quantitative", "axis": null}, "y": {"field": "y", "type": "quantitative", "axis": null}, "text": {"field": "t"}, "color": {"field": "s", "type": "nominal", "legend": null}}}
  ]},
  {"width": 517, "height": 146, "resolve": {"axis": {"x": "independent", "y": "independent"}}, "layer": [
   {"data": {"name": "zero"}, "mark": {"type": "rule", "color": "#808080", "strokeWidth": 1}, "encoding": {"x": {"field": "e", "type": "quantitative", "scale": {"domain": [-15, 4.55], "nice": false, "zero": false}, "axis": null}}},
   {"data": {"name": "curves"}, "transform": [{"filter": "datum.p === 'Pd1'"}], "mark": {"type": "line", "interpolate": "monotone", "strokeWidth": 3, "clip": true}, "encoding": {
     "x": {"field": "x", "type": "quantitative", "axis": null},
     "y": {"field": "y", "type": "quantitative", "scale": {"domain": [0, 1], "nice": false}, "axis": {"orient": "left", "values": [0.109, 0.22, 0.333, 0.447, 0.56, 0.674, 0.788, 0.895], "labels": false, "title": null, "tickSize": -7}},
     "color": {"field": "s", "type": "nominal", "scale": {"domain": ["ref", "ext"], "range": ["#e3151d", "#000000"]}, "legend": null}}},
   {"data": {"name": "tk"}, "transform": [{"filter": "datum.m === 'a'"}], "mark": {"type": "rule", "color": "#000000", "strokeWidth": 2.5}, "encoding": {"x": {"field": "x", "type": "quantitative", "axis": null}, "y": {"datum": 0, "type": "quantitative", "axis": null}, "y2": {"datum": 0.075}}},
   {"data": {"name": "tk"}, "transform": [{"filter": "datum.m === 'i'"}], "mark": {"type": "rule", "color": "#000000", "strokeWidth": 2.5}, "encoding": {"x": {"field": "x", "type": "quantitative", "axis": null}, "y": {"datum": 0, "type": "quantitative", "axis": null}, "y2": {"datum": 0.042}}},
   {"data": {"name": "centers"}, "transform": [{"filter": "datum.p === 'Pd1'"}], "mark": {"type": "rule", "strokeWidth": 3}, "encoding": {
     "x": {"field": "x", "type": "quantitative", "axis": null},
     "y": {"field": "h", "type": "quantitative", "axis": {"orient": "right", "values": [0.109, 0.22, 0.333, 0.447, 0.56, 0.674, 0.788, 0.895], "labels": false, "title": null, "tickSize": -7}},
     "y2": {"datum": 0}, "color": {"field": "s", "type": "nominal", "legend": null}}},
   {"data": {"name": "txt"}, "transform": [{"filter": "datum.p === 'Pd1' && datum.k === 'nm'"}], "mark": {"type": "text", "align": "left", "baseline": "middle", "fontSize": 19}, "encoding": {"x": {"field": "x", "type": "quantitative", "axis": null}, "y": {"field": "y", "type": "quantitative", "axis": null}, "text": {"field": "t"}}},
   {"data": {"name": "txt"}, "transform": [{"filter": "datum.p === 'Pd1' && datum.k === 'sb'"}], "mark": {"type": "text", "align": "left", "baseline": "middle", "fontSize": 12}, "encoding": {"x": {"field": "x", "type": "quantitative", "axis": null}, "y": {"field": "y", "type": "quantitative", "axis": null}, "text": {"field": "t"}}},
   {"data": {"name": "txt"}, "transform": [{"filter": "datum.p === 'Pd1' && datum.k === 'en'"}], "mark": {"type": "text", "align": "center", "baseline": "middle", "fontSize": 20}, "encoding": {"x": {"field": "x", "type": "quantitative", "axis": null}, "y": {"field": "y", "type": "quantitative", "axis": null}, "text": {"field": "t"}, "color": {"field": "s", "type": "nominal", "legend": null}}}
  ]},
  {"width": 517, "height": 146, "resolve": {"axis": {"x": "independent", "y": "independent"}}, "layer": [
   {"data": {"name": "zero"}, "mark": {"type": "rule", "color": "#808080", "strokeWidth": 1}, "encoding": {"x": {"field": "e", "type": "quantitative", "scale": {"domain": [-15, 4.55], "nice": false, "zero": false}, "axis": null}}},
   {"data": {"name": "curves"}, "transform": [{"filter": "datum.p === 'Pd2'"}], "mark": {"type": "line", "interpolate": "monotone", "strokeWidth": 3, "clip": true}, "encoding": {
     "x": {"field": "x", "type": "quantitative", "axis": null},
     "y": {"field": "y", "type": "quantitative", "scale": {"domain": [0, 1], "nice": false}, "axis": {"orient": "left", "values": [0.11, 0.22, 0.33, 0.44, 0.55, 0.66, 0.77, 0.88], "labels": false, "title": null, "tickSize": -7}},
     "color": {"field": "s", "type": "nominal", "scale": {"domain": ["ref", "ext"], "range": ["#e3151d", "#000000"]}, "legend": null}}},
   {"data": {"name": "tk"}, "transform": [{"filter": "datum.m === 'a'"}], "mark": {"type": "rule", "color": "#000000", "strokeWidth": 2.5}, "encoding": {"x": {"field": "x", "type": "quantitative", "axis": null}, "y": {"datum": 0, "type": "quantitative", "axis": null}, "y2": {"datum": 0.075}}},
   {"data": {"name": "tk"}, "transform": [{"filter": "datum.m === 'i'"}], "mark": {"type": "rule", "color": "#000000", "strokeWidth": 2.5}, "encoding": {"x": {"field": "x", "type": "quantitative", "axis": null}, "y": {"datum": 0, "type": "quantitative", "axis": null}, "y2": {"datum": 0.042}}},
   {"data": {"name": "centers"}, "transform": [{"filter": "datum.p === 'Pd2'"}], "mark": {"type": "rule", "strokeWidth": 3}, "encoding": {
     "x": {"field": "x", "type": "quantitative", "axis": null},
     "y": {"field": "h", "type": "quantitative", "axis": {"orient": "right", "values": [0.11, 0.22, 0.33, 0.44, 0.55, 0.66, 0.77, 0.88], "labels": false, "title": null, "tickSize": -7}},
     "y2": {"datum": 0}, "color": {"field": "s", "type": "nominal", "legend": null}}},
   {"data": {"name": "txt"}, "transform": [{"filter": "datum.p === 'Pd2' && datum.k === 'nm'"}], "mark": {"type": "text", "align": "left", "baseline": "middle", "fontSize": 19}, "encoding": {"x": {"field": "x", "type": "quantitative", "axis": null}, "y": {"field": "y", "type": "quantitative", "axis": null}, "text": {"field": "t"}}},
   {"data": {"name": "txt"}, "transform": [{"filter": "datum.p === 'Pd2' && datum.k === 'sb'"}], "mark": {"type": "text", "align": "left", "baseline": "middle", "fontSize": 12}, "encoding": {"x": {"field": "x", "type": "quantitative", "axis": null}, "y": {"field": "y", "type": "quantitative", "axis": null}, "text": {"field": "t"}}},
   {"data": {"name": "txt"}, "transform": [{"filter": "datum.p === 'Pd2' && datum.k === 'en'"}], "mark": {"type": "text", "align": "center", "baseline": "middle", "fontSize": 20}, "encoding": {"x": {"field": "x", "type": "quantitative", "axis": null}, "y": {"field": "y", "type": "quantitative", "axis": null}, "text": {"field": "t"}, "color": {"field": "s", "type": "nominal", "legend": null}}}
  ]},
  {"width": 517, "height": 146, "resolve": {"axis": {"x": "independent", "y": "independent"}}, "layer": [
   {"data": {"name": "zero"}, "mark": {"type": "rule", "color": "#808080", "strokeWidth": 1}, "encoding": {"x": {"field": "e", "type": "quantitative", "scale": {"domain": [-15, 4.55], "nice": false, "zero": false}, "axis": null}}},
   {"data": {"name": "curves"}, "transform": [{"filter": "datum.p === 'Pd3'"}], "mark": {"type": "line", "interpolate": "monotone", "strokeWidth": 3, "clip": true}, "encoding": {
     "x": {"field": "x", "type": "quantitative", "axis": null},
     "y": {"field": "y", "type": "quantitative", "scale": {"domain": [0, 1], "nice": false}, "axis": {"orient": "left", "values": [0.17, 0.345, 0.52, 0.695, 0.87], "labels": false, "title": null, "tickSize": -7}},
     "color": {"field": "s", "type": "nominal", "scale": {"domain": ["ref", "ext"], "range": ["#e3151d", "#000000"]}, "legend": null}}},
   {"data": {"name": "tk"}, "transform": [{"filter": "datum.m === 'a'"}], "mark": {"type": "rule", "color": "#000000", "strokeWidth": 2.5}, "encoding": {"x": {"field": "x", "type": "quantitative", "axis": null}, "y": {"datum": 0, "type": "quantitative", "axis": null}, "y2": {"datum": 0.075}}},
   {"data": {"name": "tk"}, "transform": [{"filter": "datum.m === 'i'"}], "mark": {"type": "rule", "color": "#000000", "strokeWidth": 2.5}, "encoding": {"x": {"field": "x", "type": "quantitative", "axis": null}, "y": {"datum": 0, "type": "quantitative", "axis": null}, "y2": {"datum": 0.042}}},
   {"data": {"name": "centers"}, "transform": [{"filter": "datum.p === 'Pd3'"}], "mark": {"type": "rule", "strokeWidth": 3}, "encoding": {
     "x": {"field": "x", "type": "quantitative", "axis": null},
     "y": {"field": "h", "type": "quantitative", "axis": {"orient": "right", "values": [0.17, 0.345, 0.52, 0.695, 0.87], "labels": false, "title": null, "tickSize": -7}},
     "y2": {"datum": 0}, "color": {"field": "s", "type": "nominal", "legend": null}}},
   {"data": {"name": "txt"}, "transform": [{"filter": "datum.p === 'Pd3' && datum.k === 'nm'"}], "mark": {"type": "text", "align": "left", "baseline": "middle", "fontSize": 19}, "encoding": {"x": {"field": "x", "type": "quantitative", "axis": null}, "y": {"field": "y", "type": "quantitative", "axis": null}, "text": {"field": "t"}}},
   {"data": {"name": "txt"}, "transform": [{"filter": "datum.p === 'Pd3' && datum.k === 'sb'"}], "mark": {"type": "text", "align": "left", "baseline": "middle", "fontSize": 12}, "encoding": {"x": {"field": "x", "type": "quantitative", "axis": null}, "y": {"field": "y", "type": "quantitative", "axis": null}, "text": {"field": "t"}}},
   {"data": {"name": "txt"}, "transform": [{"filter": "datum.p === 'Pd3' && datum.k === 'en'"}], "mark": {"type": "text", "align": "center", "baseline": "middle", "fontSize": 20}, "encoding": {"x": {"field": "x", "type": "quantitative", "axis": null}, "y": {"field": "y", "type": "quantitative", "axis": null}, "text": {"field": "t"}, "color": {"field": "s", "type": "nominal", "legend": null}}}
  ]},
  {"width": 517, "height": 146, "resolve": {"axis": {"x": "independent", "y": "independent"}}, "layer": [
   {"data": {"name": "zero"}, "mark": {"type": "rule", "color": "#808080", "strokeWidth": 1}, "encoding": {"x": {"field": "e", "type": "quantitative", "scale": {"domain": [-15, 4.55], "nice": false, "zero": false}, "axis": null}}},
   {"data": {"name": "curves"}, "transform": [{"filter": "datum.p === 'Pd4'"}], "mark": {"type": "line", "interpolate": "monotone", "strokeWidth": 3, "clip": true}, "encoding": {
     "x": {"field": "x", "type": "quantitative", "axis": {"orient": "bottom", "values": [-14,-12,-10,-8,-6,-4,-2,0,2,4], "ticks": false, "labels": true, "labelExpr": "'' + datum.value", "labelOverlap": false, "labelFlush": false, "labelPadding": 13, "title": null}},
     "y": {"field": "y", "type": "quantitative", "scale": {"domain": [0, 1], "nice": false}, "axis": {"orient": "left", "values": [0.11, 0.22, 0.335, 0.44, 0.55, 0.665, 0.78, 0.88], "labels": false, "title": null, "tickSize": -7}},
     "color": {"field": "s", "type": "nominal", "scale": {"domain": ["ref", "ext"], "range": ["#e3151d", "#000000"]}, "legend": null}}},
   {"data": {"name": "tk"}, "transform": [{"filter": "datum.m === 'a'"}], "mark": {"type": "rule", "color": "#000000", "strokeWidth": 2.5}, "encoding": {"x": {"field": "x", "type": "quantitative", "axis": null}, "y": {"datum": 0, "type": "quantitative", "axis": null}, "y2": {"datum": 0.075}}},
   {"data": {"name": "tk"}, "transform": [{"filter": "datum.m === 'i'"}], "mark": {"type": "rule", "color": "#000000", "strokeWidth": 2.5}, "encoding": {"x": {"field": "x", "type": "quantitative", "axis": null}, "y": {"datum": 0, "type": "quantitative", "axis": null}, "y2": {"datum": 0.042}}},
   {"data": {"name": "centers"}, "transform": [{"filter": "datum.p === 'Pd4'"}], "mark": {"type": "rule", "strokeWidth": 3}, "encoding": {
     "x": {"field": "x", "type": "quantitative", "axis": null},
     "y": {"field": "h", "type": "quantitative", "axis": {"orient": "right", "values": [0.11, 0.22, 0.335, 0.44, 0.55, 0.665, 0.78, 0.88], "labels": false, "title": null, "tickSize": -7}},
     "y2": {"datum": 0}, "color": {"field": "s", "type": "nominal", "legend": null}}},
   {"data": {"name": "txt"}, "transform": [{"filter": "datum.p === 'Pd4' && datum.k === 'nm'"}], "mark": {"type": "text", "align": "left", "baseline": "middle", "fontSize": 19}, "encoding": {"x": {"field": "x", "type": "quantitative", "axis": null}, "y": {"field": "y", "type": "quantitative", "axis": null}, "text": {"field": "t"}}},
   {"data": {"name": "txt"}, "transform": [{"filter": "datum.p === 'Pd4' && datum.k === 'sb'"}], "mark": {"type": "text", "align": "left", "baseline": "middle", "fontSize": 12}, "encoding": {"x": {"field": "x", "type": "quantitative", "axis": null}, "y": {"field": "y", "type": "quantitative", "axis": null}, "text": {"field": "t"}}},
   {"data": {"name": "txt"}, "transform": [{"filter": "datum.p === 'Pd4' && datum.k === 'en'"}], "mark": {"type": "text", "align": "center", "baseline": "middle", "fontSize": 20}, "encoding": {"x": {"field": "x", "type": "quantitative", "axis": null}, "y": {"field": "y", "type": "quantitative", "axis": null}, "text": {"field": "t"}, "color": {"field": "s", "type": "nominal", "legend": null}}},
   {"data": {"name": "txt"}, "transform": [{"filter": "datum.p === 'Pd4' && datum.k === 'xt'"}], "mark": {"type": "text", "align": "left", "baseline": "middle", "fontSize": 27}, "encoding": {"x": {"field": "x", "type": "quantitative", "axis": null}, "y": {"field": "y", "type": "quantitative", "axis": null}, "text": {"field": "t"}}},
   {"data": {"name": "txt"}, "transform": [{"filter": "datum.p === 'Pd4' && datum.k === 'xs'"}], "mark": {"type": "text", "align": "left", "baseline": "middle", "fontSize": 16}, "encoding": {"x": {"field": "x", "type": "quantitative", "axis": null}, "y": {"field": "y", "type": "quantitative", "axis": null}, "text": {"field": "t"}}}
  ]}
 ]}
]
}
